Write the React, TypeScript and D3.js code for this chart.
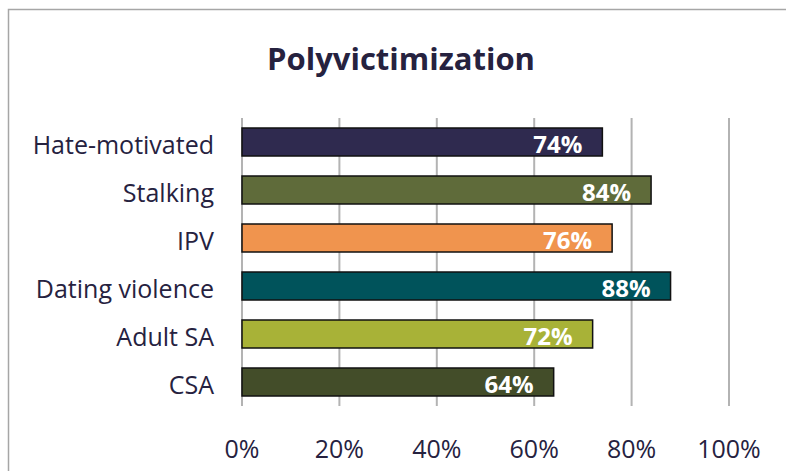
import React from "react";
import * as d3 from "d3";

const categories = ["Hate-motivated", "Stalking", "IPV", "Dating violence", "Adult SA", "CSA"];
const values = [0.74, 0.84, 0.76, 0.88, 0.72, 0.64];
const colors = ["#2f2a4f", "#5f6b3a", "#f0944e", "#00535b", "#a8b237", "#434d29"];
const ticks = [0, 0.2, 0.4, 0.6, 0.8, 1];

const W = 786;
const H = 471;
const font = "'Open Sans', sans-serif";
const textColor = "#26223f";

const App: React.FC = () => {
  const x = d3.scaleLinear().domain([0, 1]).range([242, 729]);
  const y = d3.scaleBand().domain(categories).range([118, 406]).paddingInner(20 / 48).paddingOuter(10 / 48);
  const pct = d3.format(".0%");

  return (
    <svg width={W} height={H} style={{ position: "absolute", left: 0, top: 0 }}>
      <rect x={0} y={0} width={W} height={H} fill="#fff" />
      <rect x={8.5} y={9.5} width={W + 10} height={H + 10} fill="none" stroke="#a6a6a6" strokeWidth={1.5} />
      <text x={401} y={70} textAnchor="middle" fontFamily={font} fontWeight="bold" fontSize={31} fill={textColor}>
        Polyvictimization
      </text>
      {ticks.map((t) => (
        <line key={t} x1={x(t)} x2={x(t)} y1={118} y2={406} stroke="#b3b3b3" strokeWidth={2} />
      ))}
      {ticks.map((t) => (
        <text key={"l" + t} x={x(t)} y={458} textAnchor="middle" fontFamily={font} fontSize={25} fill={textColor}>
          {pct(t)}
        </text>
      ))}
      {categories.map((c, i) => {
        const cy = (y(c) as number) + y.bandwidth() / 2;
        return (
          <g key={c}>
            <rect
              x={x(0)}
              y={y(c)}
              width={x(values[i]) - x(0)}
              height={y.bandwidth()}
              fill={colors[i]}
              stroke="#111"
              strokeWidth={1.5}
            />
            <text
              x={x(values[i]) - 20}
              y={cy + 11}
              textAnchor="end"
              fontFamily={font}
              fontWeight="bold"
              fontSize={24}
              fill="#fff"
            >
              {pct(values[i])}
            </text>
            <text x={214} y={cy + 12} textAnchor="end" fontFamily={font} fontSize={25} fill={textColor}>
              {c}
            </text>
          </g>
        );
      })}
    </svg>
  );
};

export default App;
